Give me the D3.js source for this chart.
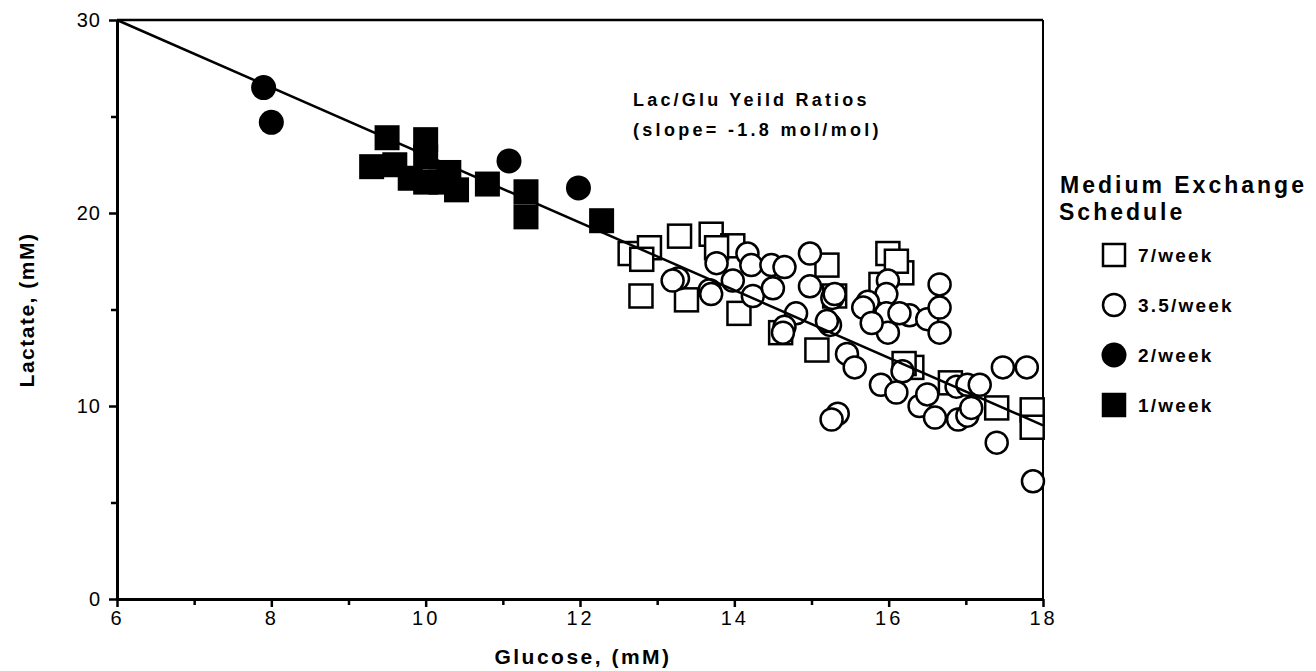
<!DOCTYPE html>
<html>
<head>
<meta charset="utf-8">
<script src="https://cdn.jsdelivr.net/npm/d3@7"></script>
<style>
  body { margin: 0; background: #fff; }
  text { font-family: "Liberation Sans", Arial, sans-serif; font-weight: bold; fill: #000; }
</style>
</head>
<body>
<div id="chart"></div>
<script>
(function(d3) {
  "use strict";

  // 7/week (open squares), glucose mM / lactate mM
  var perWeek7 = [
    [12.65,17.9],[12.9,18.2],[12.8,17.6],[12.79,15.7],[13.29,18.8],[13.7,18.9],[13.98,18.3],
    [13.77,18.2],[13.38,15.5],[14.06,14.8],[14.6,13.8],[15.07,12.9],[15.2,17.3],[15.99,17.9],
    [16.17,16.9],[16.1,17.5],[15.3,15.7],[16.3,12.0],[16.2,12.2],[16.8,11.2],[17.4,9.9],
    [17.86,9.8],[17.86,8.9],[15.9,16.3]
  ];
  // 3.5/week (open circles)
  var perWeek35 = [
    [13.27,16.6],[13.2,16.5],[13.68,16.0],[13.7,15.8],[13.77,17.4],[13.98,16.5],[14.17,17.9],
    [14.22,17.3],[14.24,15.7],[14.48,17.3],[14.5,16.1],[14.65,17.2],[14.8,14.8],[14.65,14.1],
    [14.63,13.8],[14.98,17.9],[14.98,16.2],[15.24,14.2],[15.27,15.6],[15.3,15.8],
    [15.99,16.5],[15.97,15.8],[15.73,15.4],[15.67,15.1],[15.97,14.8],[15.99,13.8],[15.78,14.3],
    [16.27,14.7],[16.14,14.8],[16.5,14.5],[16.66,16.3],[16.66,15.1],[16.66,13.8],[15.46,12.7],
    [15.56,12.0],[15.9,11.1],[16.1,10.7],[16.18,11.8],[16.4,10.0],[16.5,10.6],[16.6,9.4],
    [16.9,9.3],[17.02,9.5],[17.07,9.9],[16.88,11.0],[17.02,11.1],[17.18,11.1],[17.48,12.0],
    [17.79,12.0],[17.4,8.1],[17.87,6.1],[15.34,9.6],[15.26,9.3],[15.2,14.4]
  ];
  // 2/week (filled circles)
  var perWeek2 = [[7.9,26.5],[8.0,24.7],[11.08,22.7],[11.98,21.3]];
  // 1/week (filled squares)
  var perWeek1 = [
    [9.3,22.4],[9.5,23.9],[9.6,22.5],[9.8,21.8],[10.0,23.8],[10.0,22.9],[10.0,21.6],
    [10.2,21.6],[10.3,22.1],[10.4,21.2],[10.8,21.5],[11.3,21.1],[11.3,19.8],[12.28,19.6]
  ];
  // regression line end points
  var fitX = [6, 18];
  var fitY = [30, 9.0];

  var xMajor = [6, 8, 10, 12, 14, 16, 18];
  var xMinor = [7, 9, 11, 13, 15, 17];
  var yMajor = [0, 10, 20, 30];
  var yMinor = [5, 15, 25];

  var legendItems = [
    { label: "7/week", shape: "square", fill: "#fff" },
    { label: "3.5/week", shape: "circle", fill: "#fff" },
    { label: "2/week", shape: "circle", fill: "#000" },
    { label: "1/week", shape: "square", fill: "#000" }
  ];

  var width = 1316, height = 671;
  var Plot = { left: 117, right: 1043, top: 20, bottom: 599 };

  var svg = d3.select("#chart").append("svg")
    .attr("width", width)
    .attr("height", height);

  var x = d3.scaleLinear().domain([6, 18]).range([Plot.left, Plot.right]);
  var y = d3.scaleLinear().domain([0, 30]).range([Plot.bottom, Plot.top]);

  // frame top / right
  svg.append("line")
    .attr("x1", Plot.left).attr("x2", Plot.right)
    .attr("y1", Plot.top).attr("y2", Plot.top)
    .attr("stroke", "#000").attr("stroke-width", 2.5);
  svg.append("line")
    .attr("x1", Plot.right).attr("x2", Plot.right)
    .attr("y1", Plot.top).attr("y2", Plot.bottom)
    .attr("stroke", "#000").attr("stroke-width", 2);

  // axes
  var xAxis = svg.append("g")
    .attr("transform", `translate(0, ${Plot.bottom})`)
    .call(d3.axisBottom(x).tickValues(xMajor).tickSize(8).tickSizeOuter(0).tickPadding(4).tickFormat(d3.format("d")));
  svg.append("g")
    .attr("transform", `translate(0, ${Plot.bottom})`)
    .call(d3.axisBottom(x).tickValues(xMinor).tickSize(6).tickSizeOuter(0).tickFormat(""))
    .select(".domain").remove();

  var yAxis = svg.append("g")
    .attr("transform", `translate(${Plot.left}, 0)`)
    .call(d3.axisLeft(y).tickValues(yMajor).tickSize(8).tickSizeOuter(0).tickPadding(8).tickFormat(d3.format("d")));
  svg.append("g")
    .attr("transform", `translate(${Plot.left}, 0)`)
    .call(d3.axisLeft(y).tickValues(yMinor).tickSize(6).tickSizeOuter(0).tickFormat(""))
    .select(".domain").remove();

  svg.selectAll(".domain").attr("stroke-width", 3);
  svg.selectAll(".tick line").attr("stroke-width", 2.5);
  xAxis.selectAll("text").style("font-size", "20px").style("letter-spacing", "3px").style("font-weight", "normal");
  yAxis.selectAll("text").style("font-size", "20px").style("letter-spacing", "1px").style("font-weight", "normal");

  // axis titles
  svg.append("text")
    .attr("x", 583).attr("y", 664)
    .attr("text-anchor", "middle")
    .style("font-size", "21px").style("letter-spacing", "2.5px")
    .text("Glucose,  (mM)");
  svg.append("text")
    .attr("transform", `translate(34, 310) rotate(-90)`)
    .attr("text-anchor", "middle")
    .style("font-size", "21px").style("letter-spacing", "1.5px")
    .text("Lactate,  (mM)");

  // markers
  var sq = 23, sqFilled = 25;
  svg.append("g").selectAll("rect")
    .data(perWeek7)
    .enter()
    .append("rect")
    .attr("x", d => x(d[0]) - sq / 2)
    .attr("y", d => y(d[1]) - sq / 2)
    .attr("width", sq).attr("height", sq)
    .attr("fill", "#fff").attr("stroke", "#000").attr("stroke-width", 2.5);

  svg.append("g").selectAll("circle")
    .data(perWeek35)
    .enter()
    .append("circle")
    .attr("cx", d => x(d[0]))
    .attr("cy", d => y(d[1]))
    .attr("r", 11)
    .attr("fill", "#fff").attr("stroke", "#000").attr("stroke-width", 2.5);

  svg.append("g").selectAll("rect")
    .data(perWeek1)
    .enter()
    .append("rect")
    .attr("x", d => x(d[0]) - sqFilled / 2)
    .attr("y", d => y(d[1]) - sqFilled / 2)
    .attr("width", sqFilled).attr("height", sqFilled)
    .attr("fill", "#000");

  svg.append("g").selectAll("circle")
    .data(perWeek2)
    .enter()
    .append("circle")
    .attr("cx", d => x(d[0]))
    .attr("cy", d => y(d[1]))
    .attr("r", 12.5)
    .attr("fill", "#000");

  // fitted line
  svg.append("path")
    .datum(d3.zip(fitX, fitY))
    .attr("d", d3.line().x(d => x(d[0])).y(d => y(d[1])))
    .attr("fill", "none").attr("stroke", "#000").attr("stroke-width", 2.5);

  // annotation
  var note = svg.append("g").attr("transform", "translate(633, 0)");
  note.append("text").attr("y", 106)
    .style("font-size", "18px").style("letter-spacing", "3.2px")
    .text("Lac/Glu  Yeild  Ratios");
  note.append("text").attr("y", 136)
    .style("font-size", "18px").style("letter-spacing", "3.3px")
    .text("(slope=  -1.8  mol/mol)");

  // legend
  var legend = svg.append("g").attr("transform", "translate(1060, 0)");
  legend.append("text").attr("y", 193)
    .style("font-size", "23px").style("letter-spacing", "3px")
    .text("Medium  Exchange");
  legend.append("text").attr("x", -1).attr("y", 220)
    .style("font-size", "23px").style("letter-spacing", "3px")
    .text("Schedule");

  var rows = legend.selectAll(".legendRow")
    .data(legendItems)
    .enter()
    .append("g")
    .attr("class", "legendRow")
    .attr("transform", (d, i) => `translate(54, ${255 + i * 50})`);
  rows.filter(d => d.shape == "square").append("rect")
    .attr("x", -11).attr("y", -11).attr("width", 22).attr("height", 22)
    .attr("fill", d => d.fill).attr("stroke", "#000").attr("stroke-width", 2.5);
  rows.filter(d => d.shape == "circle").append("circle")
    .attr("r", d => d.fill == "#000" ? 12.5 : 11)
    .attr("fill", d => d.fill)
    .attr("stroke", d => d.fill == "#000" ? "none" : "#000").attr("stroke-width", 2.5);
  rows.append("text")
    .attr("x", 24).attr("y", 7)
    .style("font-size", "19px").style("letter-spacing", "2.2px")
    .text(d => d.label);

})(d3);
</script>
</body>
</html>
